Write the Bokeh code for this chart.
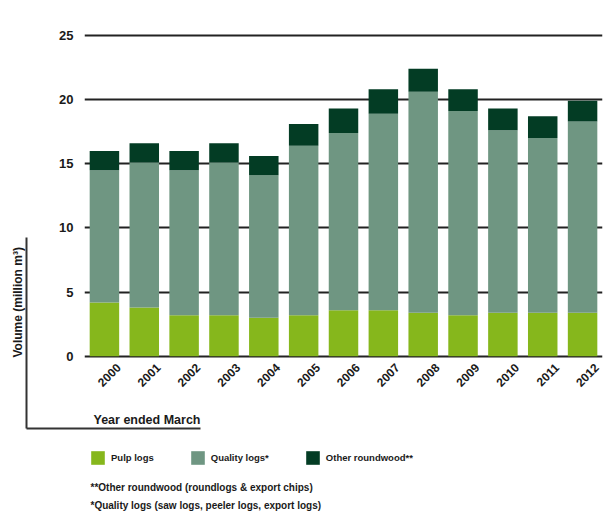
import math
from bokeh.plotting import figure
from bokeh.core.properties import value
from bokeh.models import (ColumnDataSource, Range1d, Title, Legend, LegendItem, Label,
                          FixedTicker, LinearAxis)
from bokeh.embed import file_html
from bokeh.resources import INLINE

# ---- data (million m3) ----
years = ["2000", "2001", "2002", "2003", "2004", "2005", "2006",
         "2007", "2008", "2009", "2010", "2011", "2012"]
pulp_logs = [4.2, 3.8, 3.2, 3.2, 3.0, 3.2, 3.6, 3.6, 3.4, 3.2, 3.4, 3.4, 3.4]
quality_logs = [10.3, 11.3, 11.3, 11.9, 11.1, 13.2, 13.8, 15.3, 17.2, 15.9, 14.2, 13.6, 14.9]
other_roundwood = [1.5, 1.5, 1.5, 1.5, 1.5, 1.7, 1.9, 1.9, 1.8, 1.7, 1.7, 1.7, 1.6]
y_ticks = [0, 5, 10, 15, 20, 25]
series_names = ["Pulp logs", "Quality logs*", "Other roundwood**"]
footnotes = ["**Other roundwood (roundlogs & export chips)",
             "*Quality logs (saw logs, peeler logs, export logs)"]

colors = ["#86b71c", "#6f9682", "#033c24"]
FONT = "Liberation Sans"
INK = "#1a1a1a"

W, H = 604, 517
LEFT, RIGHT, TOP = 84, 2, 31
PPU = 12.84            # pixels per million m3
Y1 = 25.3
Y0 = Y1 - (H - TOP) / PPU
N = len(years)
cat_w = (W - LEFT - RIGHT) / N
zero_px = TOP + Y1 * PPU


def dx(px):  # canvas x -> data x
    return (px - LEFT) / cat_w - 0.5


def dy(py):  # canvas y -> data y
    return (zero_px - py) / PPU


xpos = list(range(N))
src = ColumnDataSource(dict(x=xpos, year=years, pulp=pulp_logs, quality=quality_logs,
                            other=other_roundwood, base=[0] * N))

p = figure(width=W, height=H, x_range=Range1d(-0.5, N - 0.5), x_axis_location=None,
           y_range=Range1d(Y0, Y1), output_backend="svg", toolbar_location=None,
           min_border_left=LEFT, min_border_right=RIGHT, min_border_top=TOP,
           min_border_bottom=0, outline_line_color=None,
           background_fill_color="white", border_fill_color="white")

rs = p.vbar_stack(["pulp", "quality", "other"], x="x", width=0.74, color=colors,
                  line_color=None, source=src)

# year labels under the bars (rotated)
p.text(x="x", y="base", text="year", source=src, angle=math.pi / 4,
       text_align="right", text_baseline="middle", x_offset=14, y_offset=9,
       text_font=value(FONT), text_font_style="bold", text_font_size="12px",
       text_color=INK)

# grid
p.xgrid.grid_line_color = None
p.ygrid.grid_line_color = "#222222"
p.ygrid.grid_line_width = 2
p.ygrid.ticker = FixedTicker(ticks=y_ticks)

# y axis
yax = p.yaxis[0]
yax.ticker = FixedTicker(ticks=y_ticks)
yax.axis_line_color = None
yax.major_tick_line_color = None
yax.minor_tick_line_color = None
yax.major_tick_out = 0
yax.major_label_standoff = 11
yax.major_label_text_font = FONT
yax.major_label_text_font_style = "bold"
yax.major_label_text_font_size = "13px"
yax.major_label_text_color = INK
yax.axis_label = " "
yax.axis_label_standoff = 16
yax.axis_label_text_font_size = "10px"

# bracket line: tick-less axis with bounds, its single tick drawn long = underline
b_lo, b_hi = dy(428), dy(237)
vbr = LinearAxis(bounds=(b_lo, b_hi), ticker=FixedTicker(ticks=[b_lo]),
                 major_label_overrides={b_lo: ""},
                 axis_line_color="#333333", axis_line_width=2,
                 major_tick_line_color="#333333", major_tick_line_width=2,
                 major_tick_in=174, major_tick_out=0, minor_tick_line_color=None,
                 major_label_standoff=0, major_label_text_font_size="1px")
p.add_layout(vbr, "left")

# y axis title
p.add_layout(Title(text="Volume (million m³)", align="left", offset=H - 357,
                   text_font=FONT, text_font_style="bold", text_font_size="12px",
                   text_color=INK, standoff=3), "left")

# x title
p.add_layout(Label(x=dx(93), y=dy(419), text="Year ended March", text_align="left",
                   text_baseline="middle", text_font=FONT, text_font_style="bold",
                   text_font_size="12.5px", text_color=INK))

# legend
items = [LegendItem(label=n, renderers=[r]) for n, r in zip(series_names, rs)]
legend = Legend(items=items, orientation="horizontal", location=(5, H - 466),
                glyph_width=17, glyph_height=17, label_standoff=5, spacing=35,
                padding=0, margin=0, border_line_color=None, background_fill_alpha=0,
                label_text_font=FONT, label_text_font_style="bold",
                label_text_font_size="9.5px", label_text_color=INK)
p.add_layout(legend, "center")

# footnotes
for i, t in enumerate(footnotes):
    p.add_layout(Label(x=dx(90), y=dy(487 + 18 * i), text=t, text_align="left",
                       text_baseline="middle", text_font=FONT, text_font_style="bold",
                       text_font_size="10px", text_color=INK))

open("out.html", "w").write(file_html(p, INLINE))
